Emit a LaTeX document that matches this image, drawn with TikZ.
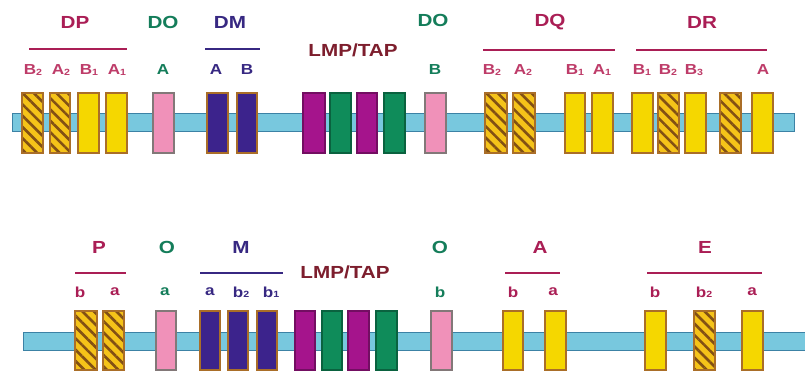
\documentclass[tikz,border=0pt]{standalone}
\usepackage{fontspec}
\setmainfont{Liberation Sans}
\usetikzlibrary{patterns.meta}

\definecolor{titlered}{RGB}{170,30,85}
\definecolor{subred}{RGB}{190,60,105}
\definecolor{dogreen}{RGB}{20,125,90}
\definecolor{dmblue}{RGB}{55,40,130}
\definecolor{lmpred}{RGB}{125,30,45}
\definecolor{exyellow}{RGB}{245,215,0}
\definecolor{hatchbg}{RGB}{245,195,25}
\definecolor{hatchline}{RGB}{130,80,20}
\definecolor{boxrim}{RGB}{170,110,40}
\definecolor{expink}{RGB}{240,145,185}
\definecolor{pinkrim}{RGB}{130,120,120}
\definecolor{exdark}{RGB}{60,35,140}
\definecolor{exmag}{RGB}{165,20,140}
\definecolor{exgreen}{RGB}{15,140,90}
\definecolor{barfill}{RGB}{120,200,222}
\definecolor{barrim}{RGB}{60,130,165}

\newcommand\wide[1]{\scalebox{1.18}[1]{#1}}
\newcommand\sub[1]{\raisebox{-0.3pt}{\fontsize{9}{9}\selectfont #1}}

\tikzset{
  exon/.style={draw=boxrim, line width=1.1pt, inner sep=0pt, outer sep=0pt,
               minimum width=21pt, minimum height=60pt},
  ylw/.style={exon, fill=exyellow},
  hatch/.style={exon, fill=hatchbg,
                pattern={Lines[angle=-45,distance=8pt,line width=2.6pt]},
                pattern color=hatchline},
  hatchfill/.style={exon, fill=hatchbg},
  pnk/.style={exon, fill=expink, draw=pinkrim},
  drk/.style={exon, fill=exdark},
  mag/.style={exon, fill=exmag, draw=exmag!70!black},
  grn/.style={exon, fill=exgreen, draw=exgreen!70!black},
  chrom/.style={fill=barfill, draw=barrim, line width=1pt},
  locus/.style={font=\fontsize{17.5}{18}\selectfont\bfseries, inner sep=0pt},
  allele/.style={font=\fontsize{14.5}{15}\selectfont\bfseries, inner sep=0pt},
  rule/.style={line width=1.3pt}
}

% exon box: \exon{style}{name}{x1}{x2}{ytop}{ybottom}
\newcommand\exon[6]{%
  \node[#1, minimum width={#4-#3}, minimum height={#6-#5}] (#2) at ({(#3+#4)/2},{(#5+#6)/2}) {};}
% striped exon: solid base with the stripes laid over it
\newcommand\hexon[6]{%
  \node[hatchfill, minimum width={#4-#3}, minimum height={#6-#5}] (#2bg) at ({(#3+#4)/2},{(#5+#6)/2}) {};
  \node[hatch, minimum width={#4-#3}, minimum height={#6-#5}] (#2) at ({(#3+#4)/2},{(#5+#6)/2}) {};}

\begin{document}
\begin{tikzpicture}[x=1pt,y=-1pt]
\useasboundingbox (0,0) rectangle (805,376);
\fill[white] (0,0) rectangle (805,376);

% ---------- human HLA class II region ----------
\path[chrom] (12,113) rectangle (794,131);

\hexon{}{dpb2}{22}{43}{93}{153}
\hexon{}{dpa2}{50}{70}{93}{153}
\exon{ylw}{dpb1}{78}{99}{93}{153}
\exon{ylw}{dpa1}{106}{127}{93}{153}
\exon{pnk}{doa}{153}{174}{93}{153}
\exon{drk}{dma}{207}{228}{93}{153}
\exon{drk}{dmb}{237}{257}{93}{153}
\exon{mag}{lmpa}{303}{325}{93}{153}
\exon{grn}{lmpb}{330}{351}{93}{153}
\exon{mag}{lmpc}{357}{377}{93}{153}
\exon{grn}{lmpd}{384}{405}{93}{153}
\exon{pnk}{dob}{425}{446}{93}{153}
\hexon{}{dqb2}{485}{507}{93}{153}
\hexon{}{dqa2}{513}{535}{93}{153}
\exon{ylw}{dqb1}{565}{585}{93}{153}
\exon{ylw}{dqa1}{592}{613}{93}{153}
\exon{ylw}{drb1}{632}{653}{93}{153}
\hexon{}{drb2}{658}{679}{93}{153}
\exon{ylw}{drb3}{685}{706}{93}{153}
\hexon{}{drbx}{720}{741}{93}{153}
\exon{ylw}{dra}{752}{773}{93}{153}

\node[locus, text=titlered] (tDP) at (75,22) {\wide{DP}};
\node[locus, text=dogreen] (tDOa) at (163,22) {\wide{DO}};
\node[locus, text=dmblue] (tDM) at (230,22) {\wide{DM}};
\node[locus, text=lmpred] (tLMP) at (353,50) {\wide{LMP/TAP}};
\node[locus, text=dogreen] (tDOb) at (433,20) {\wide{DO}};
\node[locus, text=titlered] (tDQ) at (550,22) {\wide{DQ}};
\node[locus, text=titlered] (tDR) at (702,22) {\wide{DR}};

\coordinate (dpL) at (29,49);  \coordinate (dpR) at (127,49);
\coordinate (dmL) at (205,49); \coordinate (dmR) at (260,49);
\coordinate (dqL) at (483,50); \coordinate (dqR) at (615,50);
\coordinate (drL) at (636,50); \coordinate (drR) at (767,50);
\draw[rule, titlered] (dpL) -- (dpR);
\draw[rule, dmblue] (dmL) -- (dmR);
\draw[rule, titlered] (dqL) -- (dqR);
\draw[rule, titlered] (drL) -- (drR);

\node[allele, text=subred] (lb2) at (33,70) {\wide{B\sub{2}}};
\node[allele, text=subred] (la2) at (61,70) {\wide{A\sub{2}}};
\node[allele, text=subred] (lb1) at (89,70) {\wide{B\sub{1}}};
\node[allele, text=subred] (la1) at (117,70) {\wide{A\sub{1}}};
\node[allele, text=dogreen] (loa) at (163,70) {\wide{A}};
\node[allele, text=dmblue] (lma) at (216,70) {\wide{A}};
\node[allele, text=dmblue] (lmb) at (247,70) {\wide{B}};
\node[allele, text=dogreen] (lob) at (435,70) {\wide{B}};
\node[allele, text=subred] (lqb2) at (492,70) {\wide{B\sub{2}}};
\node[allele, text=subred] (lqa2) at (523,70) {\wide{A\sub{2}}};
\node[allele, text=subred] (lqb1) at (575,70) {\wide{B\sub{1}}};
\node[allele, text=subred] (lqa1) at (602,70) {\wide{A\sub{1}}};
\node[allele, text=subred] (lrb1) at (642,70) {\wide{B\sub{1}}};
\node[allele, text=subred] (lrb2) at (668,70) {\wide{B\sub{2}}};
\node[allele, text=subred] (lrb3) at (694,70) {\wide{B\sub{3}}};
\node[allele, text=subred] (lra) at (763,70) {\wide{A}};

% ---------- mouse H-2 class II region ----------
\path[chrom] (23,332) rectangle (810,350);

\hexon{}{pb}{75}{97}{311}{370}
\hexon{}{pa}{103}{124}{311}{370}
\exon{pnk}{oa}{156}{176}{311}{370}
\exon{drk}{ma}{200}{220}{311}{370}
\exon{drk}{mb2}{228}{248}{311}{370}
\exon{drk}{mb1}{257}{277}{311}{370}
\exon{mag}{tpa}{295}{315}{311}{370}
\exon{grn}{tpb}{322}{342}{311}{370}
\exon{mag}{tpc}{348}{369}{311}{370}
\exon{grn}{tpd}{376}{397}{311}{370}
\exon{pnk}{ob}{431}{452}{311}{370}
\exon{ylw}{ab}{503}{523}{311}{370}
\exon{ylw}{aa}{545}{566}{311}{370}
\exon{ylw}{eb}{645}{666}{311}{370}
\hexon{}{eb2}{694}{715}{311}{370}
\exon{ylw}{ea}{742}{763}{311}{370}

\node[locus, text=titlered] (tP) at (99,247) {\wide{P}};
\node[locus, text=dogreen] (tOa) at (167,247) {\wide{O}};
\node[locus, text=dmblue] (tM) at (241,247) {\wide{M}};
\node[locus, text=lmpred] (tTAP) at (345,272) {\wide{LMP/TAP}};
\node[locus, text=dogreen] (tOb) at (440,247) {\wide{O}};
\node[locus, text=titlered] (tA) at (540,247) {\wide{A}};
\node[locus, text=titlered] (tE) at (705,247) {\wide{E}};

\coordinate (pL) at (75,273);  \coordinate (pR) at (126,273);
\coordinate (mL) at (200,273); \coordinate (mR) at (283,273);
\coordinate (aL) at (505,273); \coordinate (aR) at (560,273);
\coordinate (eL) at (647,273); \coordinate (eR) at (762,273);
\draw[rule, titlered] (pL) -- (pR);
\draw[rule, dmblue] (mL) -- (mR);
\draw[rule, titlered] (aL) -- (aR);
\draw[rule, titlered] (eL) -- (eR);

\node[allele, text=titlered] (lpb) at (80,292) {\wide{b}};
\node[allele, text=titlered] (lpa) at (115,292) {\wide{a}};
\node[allele, text=dogreen] (loa2) at (165,292) {\wide{a}};
\node[allele, text=dmblue] (lma2) at (210,292) {\wide{a}};
\node[allele, text=dmblue] (lmb22) at (241,292) {\wide{b\sub{2}}};
\node[allele, text=dmblue] (lmb12) at (271,292) {\wide{b\sub{1}}};
\node[allele, text=dogreen] (lob2) at (440,292) {\wide{b}};
\node[allele, text=titlered] (lab) at (513,292) {\wide{b}};
\node[allele, text=titlered] (laa) at (553,292) {\wide{a}};
\node[allele, text=titlered] (leb) at (655,292) {\wide{b}};
\node[allele, text=titlered] (leb2) at (704,292) {\wide{b\sub{2}}};
\node[allele, text=titlered] (lea) at (752,292) {\wide{a}};
\end{tikzpicture}
\end{document}
